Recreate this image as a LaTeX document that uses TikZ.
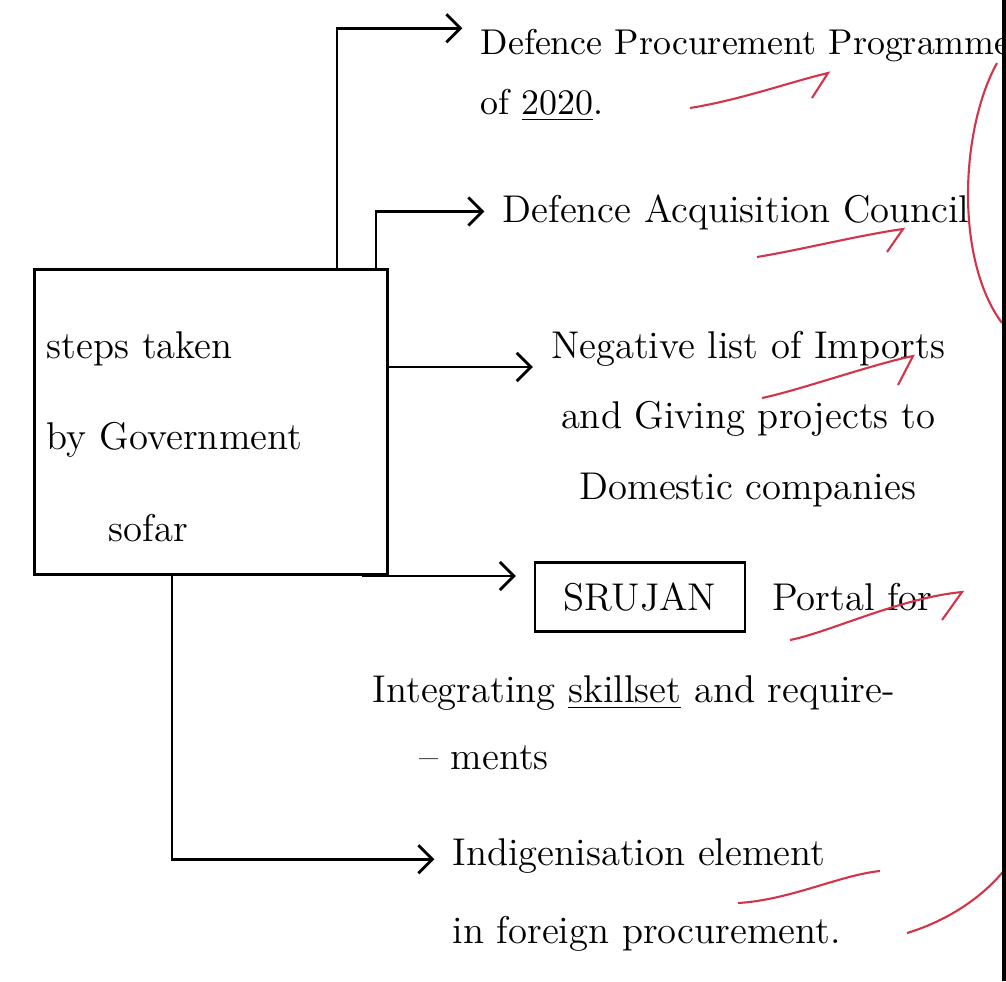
\documentclass[tikz,border=0pt]{standalone}
\usepackage{tikz}
\usepackage{xcolor}
\usetikzlibrary{arrows, arrows.meta, positioning}
\definecolor{penred}{RGB}{212,52,74}
\tikzstyle{stepsbox} = [rectangle, minimum width=3.53cm, minimum height=3.05cm, text width=3.28cm, align=left, draw=black, line width=0.8pt]
\tikzstyle{item} = [align=left, anchor=base west, inner sep=0pt]
\tikzstyle{portal} = [rectangle, minimum width=2.1cm, minimum height=0.69cm, draw=black, line width=0.8pt]
\tikzstyle{arrow} = [line width=0.8pt,->,>={Straight Barb[length=4pt,width=8pt]}, shorten >=5pt]
\tikzstyle{redmark} = [penred, line width=0.6pt]
\tikzset{
  font={\fontsize{11pt}{13}\selectfont}}

\begin{document}
\begin{tikzpicture}[x=0.01cm, y=-0.01cm]
    \useasboundingbox (0,0) rectangle (1006,981);

    \node (steps) [stepsbox] at (211,422) {\rule{0pt}{0.56cm}steps taken\\[13pt] by Government\\[13pt] \hspace{1.6em}sofar};

    \node (dpp) [item, font={\fontsize{10.2pt}{13}\selectfont}] at (480,114) {Defence Procurement Programme\\[4pt] of \underline{2020}.};
    \node (dac) [item] at (502,222) {Defence Acquisition Council};
    \node (neg) [item, align=center, anchor=base] at (748,499) {Negative list of Imports\\[7pt] and Giving projects to\\[7pt] Domestic companies};
    \node (srujan) [portal] at (640,597) {SRUJAN};
    \node (portal) [item, right=0.25cm of srujan] {Portal for};
    \node (integ) [item] at (372,769) {Integrating \underline{skillset} and require-\\[6pt] \hspace{1.2em}-- ments};
    \node (indig) [item] at (452,943) {Indigenisation element\\[9pt] in foreign procurement.};

    \draw [arrow] (steps.north -| 337,0) |- (dpp.north west);
    \draw [arrow] (steps.north -| 376,0) |- ([yshift=3pt]dac.base west);
    \draw [arrow] (steps.east |- 0,367) -- (neg.west |- 0,367);
    \draw [arrow] (steps.south -| 362,0) -- (srujan.west |- steps.south);
    \draw [arrow] (steps.south -| 172,0) |- ([yshift=-6pt]indig.north west);

    % marks in red pen
    \draw [redmark] (690,108) .. controls (740,100) and (790,82) .. (828,73) -- (812,98);
    \draw [redmark] (757,257) .. controls (800,250) and (860,235) .. (903,229) -- (887,252);
    \draw [redmark] (762,398) .. controls (800,390) and (870,365) .. (913,356) -- (898,385);
    \draw [redmark] (790,640) .. controls (830,632) and (900,598) .. (962,592) -- (942,620);
    \draw [redmark] (738,903) .. controls (790,900) and (840,875) .. (880,871);
    \draw [redmark] (907,933) .. controls (950,920) and (985,895) .. (1006,868);
    \draw [redmark] (997,63) .. controls (960,130) and (955,260) .. (1002,323);

    \fill (1002,0) rectangle (1006,981);
\end{tikzpicture}
\end{document}
